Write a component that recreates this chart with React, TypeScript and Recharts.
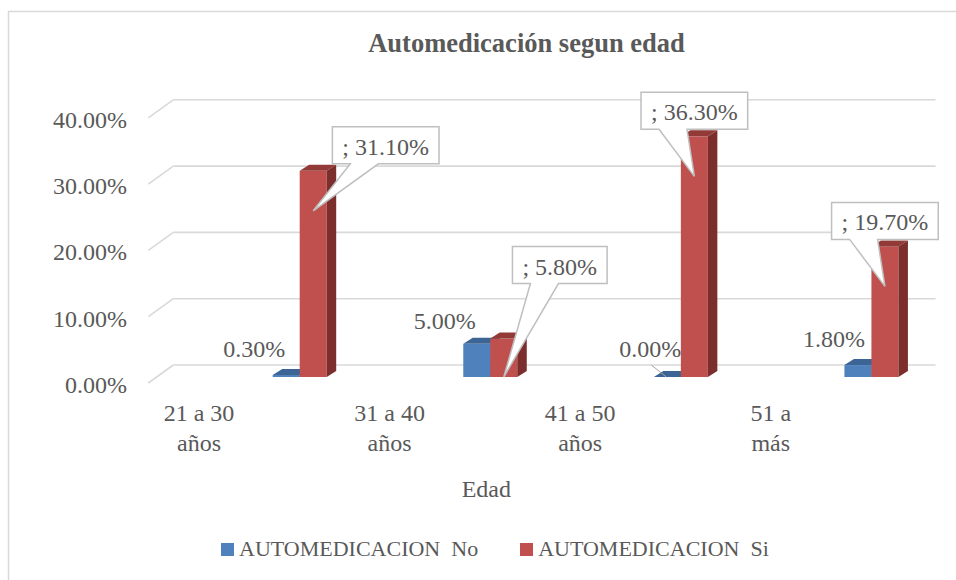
import React from 'react';
import { BarChart, Bar, XAxis, YAxis, CartesianGrid, Legend, LabelList, Label } from 'recharts';

// ---------- data ----------
const categories = ['21 a 30 años', '31 a 40 años', '41 a 50 años', '51 a más'];
const automedicacionNo = [0.003, 0.05, 0.0, 0.018];
const automedicacionSi = [0.311, 0.058, 0.363, 0.197];
const yTicks = [0, 0.1, 0.2, 0.3, 0.4];
const seriesNames = ['AUTOMEDICACION  No', 'AUTOMEDICACION  Si'];
const chartTitle = 'Automedicación segun edad';
const xAxisTitle = 'Edad';

const data = categories.map((c, i) => ({
  category: c,
  no: automedicacionNo[i],
  si: automedicacionSi[i],
}));

// ---------- style ----------
const FONT = '"Liberation Serif", "Times New Roman", serif';
const TEXT = '#595959';
const GRID = '#d9d9d9';
const BLUE = { front: '#4f81bd', top: '#3c6595', side: '#345a86' };
const RED = { front: '#c0504d', top: '#923a37', side: '#7b2e2c' };
const DEPTH_X = 9.5;
const DEPTH_Y = 6;
const WALL_DX = -31.4;
const WALL_DY = -12;
const FLOOR_DX = -56.4;
const FLOOR_DY = 6;
const CAT_LABEL_DX = -101;

// label layout nudges (not data)
const noLabelNudge: [number, number, boolean][] = [
  [0, 0, false],
  [0, 3.5, false],
  [15, -2, true],
  [8, 0.5, false],
];
const siCalloutNudge: [number, number][] = [
  [72.5, 0],
  [56, -48],
  [0, 0],
  [0, 0],
];

const fmt = (v: number) => (v * 100).toFixed(2) + '%';

let ctx: CanvasRenderingContext2D | null = null;
function measure(text: string, font: string): number {
  try {
    if (!ctx) ctx = document.createElement('canvas').getContext('2d');
    if (ctx) {
      ctx.font = font;
      return ctx.measureText(text).width;
    }
  } catch (e) {
    /* ignore */
  }
  return text.length * 12;
}

const makeBar3D = (colors: { front: string; top: string; side: string }) => (props: any) => {
  const { x, y, width, height } = props;
  if (x == null || y == null || width == null) return <g />;
  const h = Math.max(0, height || 0);
  return (
    <g>
      <rect x={x} y={y} width={width} height={h} fill={colors.front} />
      <path
        d={`M${x},${y} L${x + DEPTH_X},${y - DEPTH_Y} L${x + width + DEPTH_X},${y - DEPTH_Y} L${x + width},${y} Z`}
        fill={colors.top}
      />
      <path
        d={`M${x + width},${y} L${x + width + DEPTH_X},${y - DEPTH_Y} L${x + width + DEPTH_X},${y + h - DEPTH_Y} L${x + width},${y + h} Z`}
        fill={colors.side}
      />
    </g>
  );
};

const NoLabel = (props: any) => {
  const { x, y, width, value, index } = props;
  if (x == null || y == null) return null;
  const [nx, ny, leader] = noLabelNudge[index] || [0, 0, false];
  const cx = x + width / 2 - 32 + nx;
  const by = y - 18.5 + ny;
  return (
    <g>
      {leader && (
        <line x1={cx + 1} y1={by + 8.5} x2={x + width / 2 - 1} y2={y} stroke="#a6a6a6" strokeWidth={1} />
      )}
      <text x={cx} y={by} textAnchor="middle" fontSize={24} fill={TEXT} fontFamily={FONT}>
        {fmt(Number(value))}
      </text>
    </g>
  );
};

const SiCallout = (props: any) => {
  const { x, y, width, height, value, index } = props;
  if (x == null || y == null) return null;
  const text = '; ' + fmt(Number(value));
  const tw = measure(text, `24px ${FONT}`);
  const bw = tw + 20;
  const bh = 37;
  const [nx, ny] = siCalloutNudge[index] || [0, 0];
  const cx = x + width / 2 + nx;
  const cy = y - 25.5 + ny;
  const left = cx - bw / 2;
  const right = cx + bw / 2;
  const top = cy - bh / 2;
  const bottom = cy + bh / 2;
  const tipX = x + width / 2;
  const tipY = Math.min(y + 40, y + (height || 0));
  const b1 = left + 18;
  const b2 = left + 46;
  return (
    <g>
      <path
        d={`M${left},${top} H${right} V${bottom} H${b2} L${tipX},${tipY} L${b1},${bottom} H${left} Z`}
        fill="#ffffff"
        stroke="#bfbfbf"
        strokeWidth={1.5}
      />
      <text x={cx} y={cy + 9.5} textAnchor="middle" fontSize={24} fill={TEXT} fontFamily={FONT}>
        {text}
      </text>
    </g>
  );
};

const YTick = (props: any) => {
  const { x, y, payload } = props;
  return (
    <text x={x - 77.7} y={y + 16} textAnchor="end" fontSize={24} fill={TEXT} fontFamily={FONT}>
      {fmt(Number(payload.value))}
    </text>
  );
};

const XTick = (props: any) => {
  const { x, y, payload } = props;
  const s = String(payload.value);
  const k = s.lastIndexOf(' ');
  const l1 = k > 0 ? s.slice(0, k) : s;
  const l2 = k > 0 ? s.slice(k + 1) : '';
  return (
    <g>
      <text x={x + CAT_LABEL_DX} y={y + 44.3} textAnchor="middle" fontSize={24} fill={TEXT} fontFamily={FONT}>
        {l1}
      </text>
      <text x={x + CAT_LABEL_DX} y={y + 73.5} textAnchor="middle" fontSize={24} fill={TEXT} fontFamily={FONT}>
        {l2}
      </text>
    </g>
  );
};

const GridLine = (props: any) => {
  const { x1, x2, y1 } = props;
  const yf = y1 + FLOOR_DY;
  const yb = y1 + WALL_DY;
  return (
    <g>
      <line x1={x1 + FLOOR_DX} y1={yf} x2={x1 + WALL_DX} y2={yb} stroke={GRID} strokeWidth={1.6} />
      <line x1={x1 + WALL_DX} y1={yb} x2={x2 + WALL_DX} y2={yb} stroke={GRID} strokeWidth={1.6} />
    </g>
  );
};

const EdadLabel = (props: any) => {
  const vb = props.viewBox || { x: 204.7, y: 377, width: 762.4, height: 60 };
  return (
    <text
      x={vb.x + vb.width / 2 - 99.5}
      y={vb.y + 120}
      textAnchor="middle"
      fontSize={24}
      fill={TEXT}
      fontFamily={FONT}
    >
      {xAxisTitle}
    </text>
  );
};

const LegendContent = () => (
  <div
    style={{
      display: 'flex',
      alignItems: 'center',
      height: 26,
      fontFamily: FONT,
      fontSize: 22,
      color: TEXT,
      whiteSpace: 'pre',
      lineHeight: '26px',
    }}
  >
    <span style={{ display: 'inline-block', flexShrink: 0, width: 13, height: 13, background: BLUE.front, marginRight: 5 }} />
    <span>{seriesNames[0]}</span>
    <span
      style={{ display: 'inline-block', flexShrink: 0, width: 13, height: 13, background: RED.front, marginLeft: 42, marginRight: 5 }}
    />
    <span>{seriesNames[1]}</span>
  </div>
);

export default function App() {
  return (
    <div style={{ position: 'absolute', left: 0, top: 0, width: 956, height: 580, overflow: 'hidden', background: '#fff' }}>
      <BarChart
        width={980}
        height={580}
        data={data}
        margin={{ top: 111.8, right: 13, bottom: 143, left: 144.7 }}
        barGap={0}
        barSize={27}
      >
        <rect x={8.5} y={11.5} width={1200} height={800} fill="none" stroke={GRID} strokeWidth={1.5} />
        <text
          x={526.5}
          y={52}
          textAnchor="middle"
          fontSize={26.5}
          fontWeight="bold"
          fill={TEXT}
          fontFamily={FONT}
        >
          {chartTitle}
        </text>
        <CartesianGrid vertical={false} horizontal={GridLine as any} />
        <XAxis
          dataKey="category"
          height={60}
          axisLine={false}
          tickLine={false}
          tickSize={0}
          tickMargin={0}
          tick={XTick}
          interval={0}
        >
          <Label content={EdadLabel} />
        </XAxis>
        <YAxis
          width={60}
          domain={[0, 0.4]}
          ticks={yTicks}
          axisLine={false}
          tickLine={false}
          tickSize={0}
          tickMargin={0}
          tick={YTick}
          interval={0}
        />
        <Legend
          layout="horizontal"
          verticalAlign="middle"
          align="center"
          wrapperStyle={{ position: 'absolute', top: 536, left: 221, width: 720, height: 26 }}
          content={LegendContent}
        />
        <Bar dataKey="no" name={seriesNames[0]} fill={BLUE.front} shape={makeBar3D(BLUE)} isAnimationActive={false}>
          <LabelList dataKey="no" content={NoLabel} />
        </Bar>
        <Bar dataKey="si" name={seriesNames[1]} fill={RED.front} shape={makeBar3D(RED)} isAnimationActive={false}>
          <LabelList dataKey="si" content={SiCallout} />
        </Bar>
      </BarChart>
    </div>
  );
}
